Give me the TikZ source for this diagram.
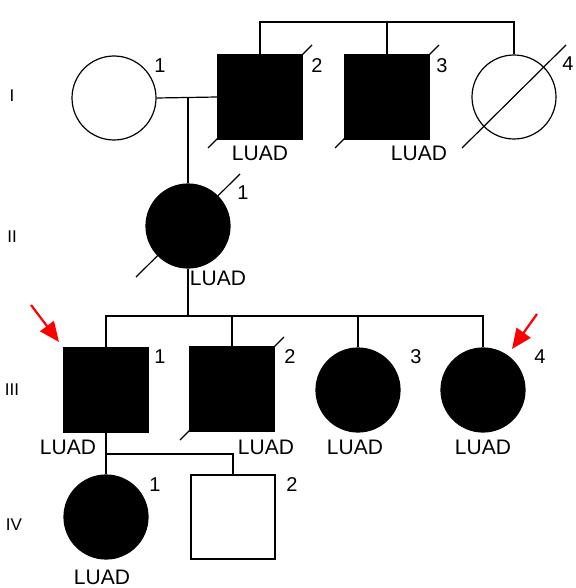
\documentclass[tikz,border=0pt]{standalone}
\usepackage{fontspec}
\setmainfont{Liberation Sans}
\usetikzlibrary{arrows.meta}
\begin{document}
\begin{tikzpicture}[x=1pt,y=-1pt,line width=1.2pt,
  male/.style={draw,rectangle,minimum size=84pt,inner sep=0pt},
  female/.style={draw,circle,minimum size=84pt,inner sep=0pt},
  affected/.style={fill=black},
  idlabel/.style={font=\fontsize{20}{22}\selectfont,inner sep=0pt},
  dxlabel/.style={font=\fontsize{21}{23}\selectfont,inner sep=0pt},
  genlabel/.style={font=\fontsize{17}{19}\selectfont,inner sep=0pt},
  proband/.style={draw=red,line width=2.2pt,-{Triangle[length=20pt,width=17pt]}},
  link/.style={draw,line width=1.2pt}]
\useasboundingbox (0,0) rectangle (575,588);

% generation I
\node[female] (I1) at (114,98) {};
\node[male,affected] (I2) at (260,97) {};
\node[male,affected] (I3) at (387,97) {};
\node[female] (I4) at (514,97) {};
% generation II
\node[female,affected] (II1) at (188,226) {};
% generation III
\node[male,affected] (III1) at (106,390) {};
\node[male,affected] (III2) at (232,389) {};
\node[female,affected] (III3) at (358,390) {};
\node[female,affected] (III4) at (483,390) {};
% generation IV
\node[female,affected] (IV1) at (106,517) {};
\node[male] (IV2) at (233,517) {};

% deceased marks
\foreach \n in {I2,I3,I4,II1,III2}
  \draw (\n.center) ++(-52,51) -- ++(104,-103);

% generation I: marriage and sibship lines
\draw[link] (I1.east) -- (I2.west);
\coordinate (m1) at (188,98);
\draw[link] (m1) -- (II1.north);
\coordinate (s1) at (387,22);
\draw[link] (I2.north) |- (s1) -| (I4.north);
\draw[link] (I3.north) -- (s1);

% generation III sibship
\coordinate (s3) at (188,316);
\draw[link] (II1.south) -- (s3);
\draw[link] (III1.north) |- (s3) -| (III4.north);
\draw[link] (III2.north) -- (III2.north |- s3);
\draw[link] (III3.north) -- (III3.north |- s3);

% generation IV sibship
\coordinate (s4) at (106,454);
\draw[link] (III1.south) -- (IV1.north);
\draw[link] (s4) -| (IV2.north);

% individual numbers
\node[idlabel] (n-I1) at (160,66) {1};
\node[idlabel] (n-I2) at (317,66) {2};
\node[idlabel] (n-I3) at (442,66) {3};
\node[idlabel] (n-I4) at (568,64) {4};
\node[idlabel] (n-II1) at (243,193) {1};
\node[idlabel] (n-III1) at (160,357) {1};
\node[idlabel] (n-III2) at (290,357) {2};
\node[idlabel] (n-III3) at (416,357) {3};
\node[idlabel] (n-III4) at (540,357) {4};
\node[idlabel] (n-IV1) at (155,485) {1};
\node[idlabel] (n-IV2) at (292,485) {2};

% diagnoses
\node[dxlabel] (d-I2) at (260,153) {LUAD};
\node[dxlabel] (d-I3) at (419,153) {LUAD};
\node[dxlabel] (d-II1) at (218,278) {LUAD};
\node[dxlabel] (d-III1) at (68,447) {LUAD};
\node[dxlabel] (d-III2) at (266,447) {LUAD};
\node[dxlabel] (d-III3) at (355,447) {LUAD};
\node[dxlabel] (d-III4) at (483,447) {LUAD};
\node[dxlabel] (d-IV1) at (102,577) {LUAD};

% generation numerals
\node[genlabel] (g1) at (12,96) {I};
\node[genlabel] (g2) at (12,237) {II};
\node[genlabel] (g3) at (12,390) {III};
\node[genlabel] (g4) at (14,525) {IV};

% probands
\coordinate (p1) at (31,305);
\coordinate (p1t) at (59,342);
\coordinate (p2) at (537,314);
\coordinate (p2t) at (512,349);
\draw[proband] (p1) -- (p1t);
\draw[proband] (p2) -- (p2t);
\end{tikzpicture}
\end{document}
